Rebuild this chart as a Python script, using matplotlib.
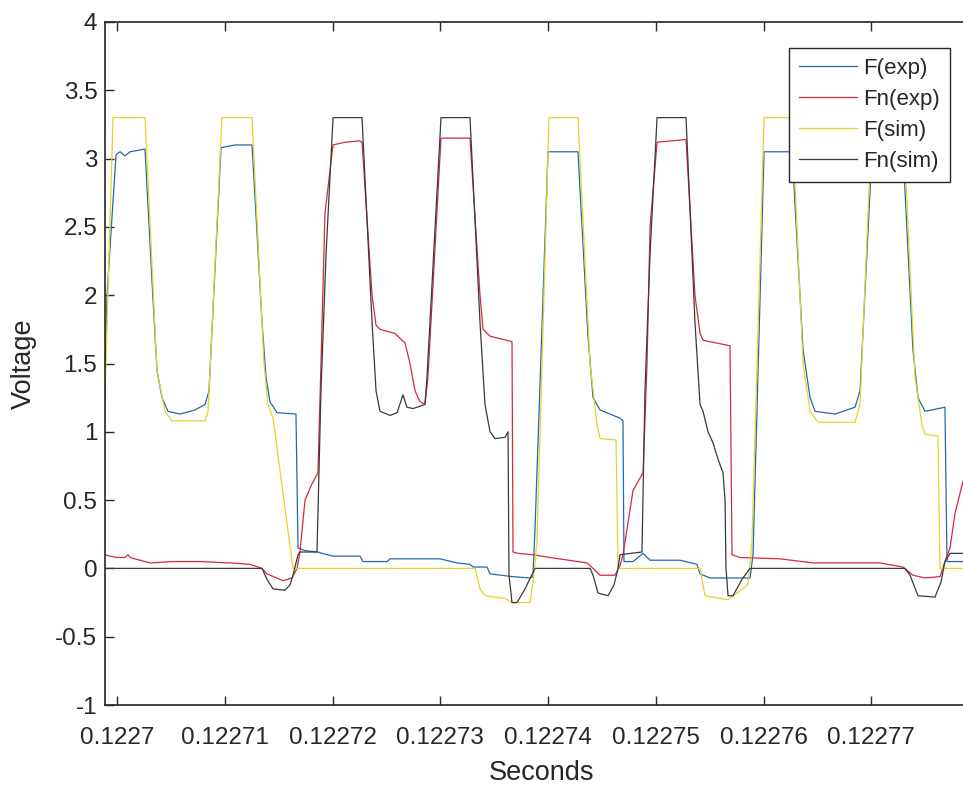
import numpy as np
import matplotlib
matplotlib.use("Agg")
import matplotlib.pyplot as plt
from matplotlib.ticker import FuncFormatter

# ---------------- data (time in microseconds after T0 seconds, voltage in V) ----------------
T0 = 0.1227

f_exp = [(-2.04, -0.05), (-1.48, 0.0), (-0.93, 2.0), (-0.09, 3.03), (0.28, 3.05), (0.74, 3.02),
         (1.21, 3.05), (2.60, 3.07), (3.25, 2.1), (3.71, 1.45), (4.18, 1.25), (4.73, 1.15),
         (5.85, 1.13), (7.24, 1.16), (8.17, 1.2), (8.54, 1.3), (9.65, 3.08), (10.95, 3.1),
         (12.53, 3.1), (13.46, 1.8), (13.83, 1.4), (14.20, 1.22), (14.85, 1.14), (16.61, 1.13),
         (16.80, 0.15), (17.45, 0.13), (18.65, 0.12), (19.03, 0.11), (20.05, 0.09), (22.55, 0.09),
         (22.83, 0.05), (25.06, 0.05), (25.34, 0.07), (29.98, 0.07), (31.55, 0.04), (32.76, 0.03),
         (33.04, 0.01), (34.34, 0.01), (34.62, -0.04), (36.66, -0.06), (38.33, -0.07), (38.60, -0.06),
         (38.80, 0.3), (40.00, 3.05), (42.78, 3.05), (43.71, 1.7), (44.18, 1.25), (44.83, 1.16),
         (46.68, 1.1), (46.96, 1.08), (47.05, 0.05), (47.89, 0.05), (48.82, 0.11), (49.47, 0.06),
         (52.25, 0.06), (53.83, 0.03), (54.11, -0.04), (55.03, -0.07), (58.75, -0.07), (59.03, 0.1),
         (60.05, 3.05), (62.65, 3.05), (63.67, 1.6), (64.32, 1.25), (64.78, 1.15), (66.64, 1.13),
         (68.49, 1.18), (68.96, 1.3), (70.07, 3.05), (72.95, 3.05), (73.87, 1.6), (74.34, 1.25),
         (74.99, 1.15), (76.84, 1.18), (77.03, 0.05), (77.77, 0.05), (79.63, 0.05)]

fn_exp = [(-2.04, 0.1), (-1.11, 0.1), (-0.65, 0.09), (0.0, 0.08), (0.74, 0.08), (1.02, 0.1),
          (1.21, 0.08), (2.13, 0.06), (3.06, 0.04), (5.20, 0.05), (7.70, 0.05), (10.49, 0.04),
          (12.34, 0.03), (13.46, 0.0), (13.92, -0.04), (15.41, -0.09), (16.24, -0.07), (16.71, 0.0),
          (16.98, 0.12), (17.45, 0.5), (18.10, 0.62), (18.65, 0.7), (18.93, 1.5), (19.30, 2.6),
          (20.05, 3.1), (21.16, 3.12), (22.55, 3.13), (22.74, 3.12), (23.67, 2.0), (24.04, 1.78),
          (24.41, 1.75), (25.80, 1.72), (26.73, 1.65), (27.19, 1.5), (27.66, 1.3), (28.12, 1.22),
          (28.58, 1.2), (28.86, 1.4), (30.07, 3.15), (32.76, 3.15), (33.69, 2.0), (33.97, 1.75),
          (34.62, 1.7), (36.66, 1.66), (36.75, 0.12), (37.22, 0.11), (38.61, 0.1), (40.19, 0.08),
          (43.62, 0.04), (44.18, 0.0), (44.83, -0.05), (46.22, -0.05), (46.68, 0.02), (46.96, 0.1),
          (47.89, 0.57), (48.82, 0.7), (49.19, 1.5), (49.47, 2.5), (50.12, 3.12), (52.81, 3.14),
          (53.64, 2.0), (54.11, 1.72), (54.39, 1.67), (56.89, 1.63), (57.08, 0.1), (57.82, 0.08),
          (61.53, 0.07), (64.59, 0.04), (67.75, 0.04), (70.81, 0.04), (72.95, 0.01), (73.87, -0.05),
          (74.99, -0.07), (76.38, -0.06), (76.84, 0.05), (77.31, 0.15), (77.77, 0.4), (78.52, 0.64),
          (79.63, 0.75)]

f_sim = [(-2.04, 0.0), (-1.58, 0.0), (-0.37, 3.3), (2.60, 3.3), (3.71, 1.45), (4.45, 1.15),
         (5.10, 1.08), (8.17, 1.08), (8.45, 1.15), (9.74, 3.3), (12.53, 3.3), (13.64, 1.5),
         (14.01, 1.2), (14.48, 1.1), (16.33, 0.0), (33.23, 0.0), (33.69, -0.15), (34.15, -0.2),
         (36.01, -0.22), (36.66, -0.25), (38.33, -0.25), (38.61, -0.1), (38.98, 0.2), (40.09, 3.3),
         (42.78, 3.3), (43.90, 1.5), (44.55, 1.05), (44.83, 0.95), (46.31, 0.94), (46.50, 0.0),
         (54.11, 0.0), (54.57, -0.2), (56.71, -0.23), (58.56, -0.12), (58.93, 0.2), (60.05, 3.3),
         (62.65, 3.3), (63.67, 1.5), (64.32, 1.15), (65.06, 1.07), (68.49, 1.07), (68.96, 1.2),
         (70.07, 3.3), (72.95, 3.3), (74.06, 1.4), (74.71, 1.05), (74.99, 0.98), (76.19, 0.97),
         (76.38, 0.0), (79.63, 0.0)]

fn_sim = [(-2.04, 0.0), (13.46, 0.0), (13.92, -0.08), (14.48, -0.15), (15.59, -0.16), (16.06, -0.12),
          (16.33, -0.05), (16.80, 0.1), (16.98, 0.12), (18.56, 0.12), (18.93, 1.3), (19.40, 2.3),
          (20.05, 3.3), (22.74, 3.3), (23.67, 1.8), (24.04, 1.3), (24.41, 1.15), (25.34, 1.12),
          (25.99, 1.14), (26.54, 1.27), (26.91, 1.18), (27.47, 1.17), (28.58, 1.2), (28.77, 1.4),
          (30.07, 3.3), (32.76, 3.3), (33.69, 1.8), (34.15, 1.2), (34.62, 1.0), (35.08, 0.95),
          (36.01, 0.96), (36.29, 1.0), (36.38, -0.05), (36.66, -0.25), (37.12, -0.25), (37.87, -0.15),
          (38.79, 0.0), (43.90, 0.0), (44.18, -0.05), (44.64, -0.18), (45.57, -0.2), (46.13, -0.12),
          (46.50, 0.0), (46.68, 0.1), (48.72, 0.12), (49.00, 1.3), (49.47, 2.3), (50.12, 3.3),
          (52.81, 3.3), (53.64, 1.8), (54.11, 1.2), (54.39, 1.15), (54.85, 1.0), (55.31, 0.92),
          (55.78, 0.8), (56.24, 0.7), (56.43, 0.5), (56.52, 0.0), (56.71, -0.2), (57.17, -0.2),
          (58.00, -0.08), (58.75, 0.0), (73.13, 0.0), (73.60, -0.05), (74.34, -0.2), (75.92, -0.21),
          (76.47, -0.1), (76.84, 0.05), (77.31, 0.11), (79.63, 0.11)]

series_labels = ["F(exp)", "Fn(exp)", "F(sim)", "Fn(sim)"]
series_colors = ["#2268B0", "#D6283F", "#E5D42A", "#3A3A3A"]

x_tick_offsets_us = [0, 10, 20, 30, 40, 50, 60, 70]
y_ticks = [-1, -0.5, 0, 0.5, 1, 1.5, 2, 2.5, 3, 3.5, 4]

# ---------------- figure ----------------
plt.rcParams['font.family'] = ['Liberation Sans', 'DejaVu Sans']
plt.rcParams['axes.unicode_minus'] = False

fig = plt.figure(figsize=(9.63, 7.91), dpi=100)
ax = fig.add_axes([105 / 963, 1 - 705 / 791, (979 - 105) / 963, (705 - 22) / 791])

axc = "#262626"
for data, lab, col in zip([f_exp, fn_exp, f_sim, fn_sim], series_labels, series_colors):
    arr = np.array(data)
    ax.plot(T0 + arr[:, 0] * 1e-6, arr[:, 1], color=col, lw=0.9, label=lab)

ax.set_xlim(T0 - 1.114e-6, T0 + 80e-6)
ax.set_ylim(-1, 4)
ax.set_xticks([T0 + o * 1e-6 for o in x_tick_offsets_us])
ax.set_yticks(y_ticks)
ax.xaxis.set_major_formatter(FuncFormatter(lambda v, p: f"{round(v, 7):g}"))
ax.yaxis.set_major_formatter(FuncFormatter(lambda v, p: f"{v:g}"))

ax.tick_params(axis='both', direction='in', length=6.5, width=1.0, colors=axc,
               labelsize=17.5, top=True, right=True)
ax.tick_params(axis='x', pad=15.5)
ax.tick_params(axis='y', pad=5.5)
for s in ax.spines.values():
    s.set_linewidth(1.2)
    s.set_color(axc)

ax.set_xlabel("Seconds", fontsize=19.5, color=axc)
ax.set_ylabel("Voltage", fontsize=19.5, color=axc)
ax.xaxis.set_label_coords(0.5, -0.080)
ax.yaxis.set_label_coords(-0.0778, 0.5)

leg = ax.legend(loc='upper right', bbox_to_anchor=(950 / 963, 1 - 48 / 791),
                bbox_transform=fig.transFigure, borderaxespad=0, fancybox=False,
                edgecolor=axc, framealpha=1, fontsize=16, handlelength=2.6,
                handletextpad=0.3, labelspacing=0.45, borderpad=0.45)
leg.get_frame().set_linewidth(1.0)
for t in leg.get_texts():
    t.set_color(axc)

fig.savefig("out.png", dpi=100)
